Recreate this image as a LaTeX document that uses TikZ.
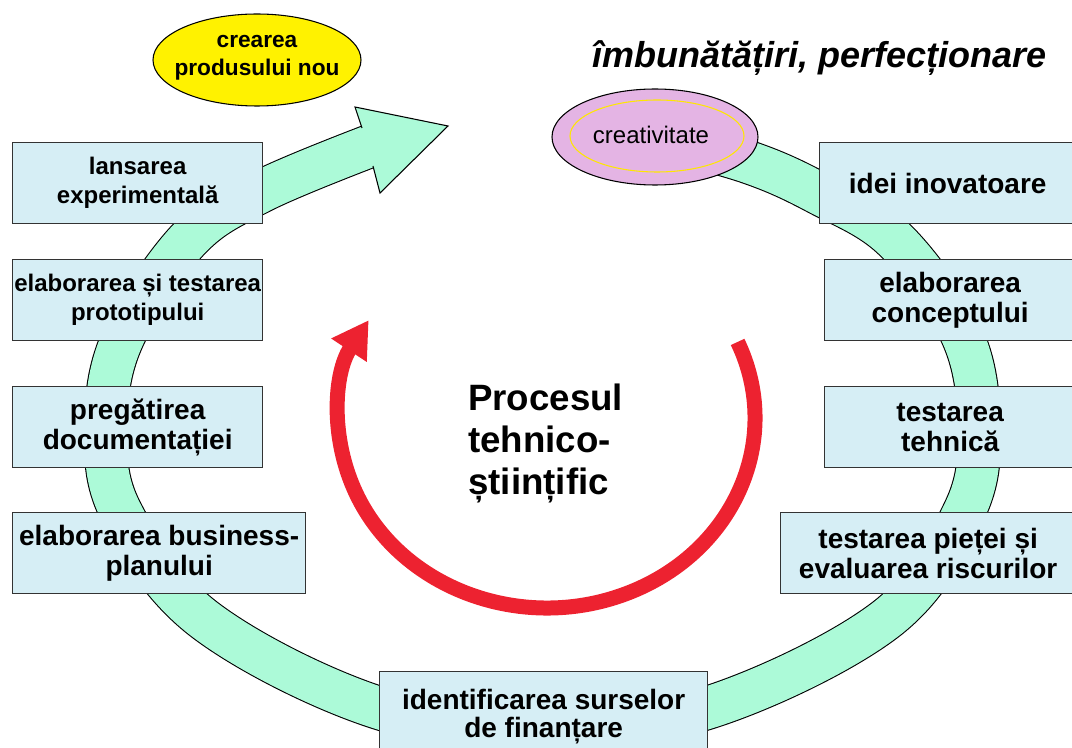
\documentclass[tikz,border=0pt]{standalone}
\usepackage{fontspec}
\setmainfont{Liberation Sans}
\usepackage{tikz}
\usetikzlibrary{arrows.meta}
\usepackage{xcolor}

\definecolor{boxblue}{RGB}{214,238,245}
\definecolor{bandgreen}{RGB}{172,250,216}
\definecolor{procred}{RGB}{237,34,48}
\definecolor{ideayellow}{RGB}{255,242,0}
\definecolor{creapink}{RGB}{228,180,228}

\begin{document}
\begin{tikzpicture}[x=0.75pt, y=-0.75pt,
        stage/.style={draw=black!80, line width=1pt, fill=boxblue, anchor=north west, align=center,
                inner xsep=0pt, minimum height=60.75pt, font=\bfseries\fontsize{21}{22.5}\selectfont},
        smallstage/.style={stage, font=\bfseries\fontsize{18}{21.75}\selectfont}]
                \useasboundingbox (0,0) rectangle (1072,748);
                \clip (0,0) rectangle (1072,748);

                \begin{scope}
                    % green ring with its arrow head
                    \draw[double=bandgreen, double distance=31.5pt, line width=0.8pt]
                        plot[smooth, tension=0.6] coordinates {(650,135) (748,162) (818,193) (895,240)
                            (962,335) (979,427) (964,512) (885,620) (707,708) (543,728) (379,708)
                            (205,620) (121,512) (106,427) (122,340) (188,240) (262,191) (378,143)};
                    \fill[bandgreen] (362,128) -- (355,107) -- (448,126) -- (380,193) -- (373,166) -- cycle;
                    \draw[line width=0.8pt] (362,128) -- (355,107) -- (448,126) -- (380,193) -- (373,166);
                \end{scope}

                \draw[fill=ideayellow, line width=0.8pt] (257,60) ellipse [x radius=104, y radius=46];
                \node[font=\bfseries\fontsize{17}{21}\selectfont, align=center] (newprod) at (257,58) {crearea\\produsului nou};

                \draw[fill=creapink, line width=0.8pt] (655,137) ellipse [x radius=103, y radius=48];
                \draw[yellow!90!orange, line width=0.8pt] (657,136) ellipse [x radius=87, y radius=36];
                \node[font=\fontsize{18}{21}\selectfont] (creat) at (651,135) {creativitate};

                \node[anchor=base west, inner sep=0pt, font=\bfseries\itshape\fontsize{27}{32}\selectfont] (improve) at (592,68) {îmbunătățiri, perfecționare};

                % left column
                \node[smallstage, minimum width=187.5pt] (launch) at (12,142) {lansarea\\experimentală};
                \node[smallstage, minimum width=187.5pt] (proto) at (12,259) {elaborarea și testarea\\prototipului};
                \node[stage, minimum width=187.5pt] (docs) at (12,386) {pregătirea\\documentației};
                \node[stage, minimum width=219.75pt] (plan) at (12,512) {elaborarea business-\\planului};

                % right column
                \node[stage, minimum width=192pt] (ideas) at (819,142) {idei inovatoare};
                \node[stage, minimum width=188.25pt] (concept) at (824,259) {elaborarea\\conceptului};
                \node[stage, minimum width=188.25pt] (techtest) at (824,386) {testarea\\tehnică};
                \node[stage, minimum width=221.25pt] (market) at (780,512) {testarea pieței și\\evaluarea riscurilor};

                \node[stage, minimum width=246pt, minimum height=67.5pt, font=\bfseries\fontsize{21}{20.5}\selectfont] (funding) at (379,671) {identificarea surselor\\de finanțare};

                % inner cycle
                \draw[procred, line width=11.25pt, -{Triangle[length=27pt, width=30pt]}]
                    (547,418) ++(-23.6:208 and 190) arc[start angle=-23.6, end angle=211, x radius=208, y radius=190];
                \node[anchor=north west, inner sep=0pt, align=left, font=\bfseries\fontsize{27.5}{31.5}\selectfont] (proc) at (468,384) {Procesul\\tehnico-\\științific};
            \end{tikzpicture}
\end{document}
